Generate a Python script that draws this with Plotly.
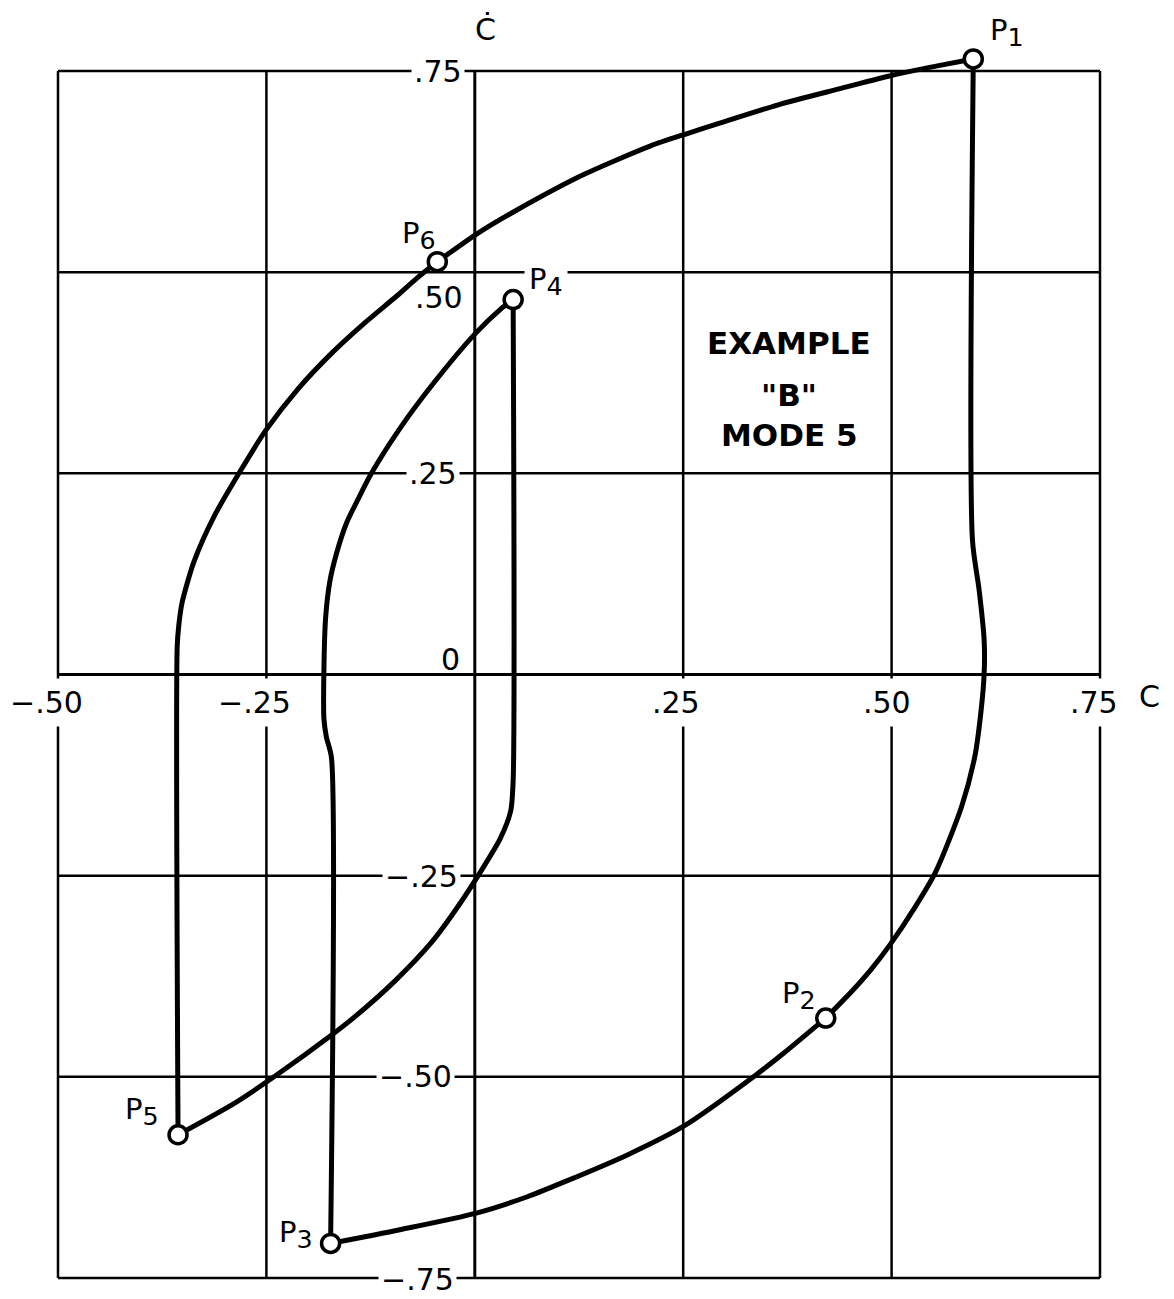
import plotly.graph_objects as go

# Phase-plane trajectory, C (abscissa) against C-dot (ordinate).
# The path runs P1 -> P2 -> P3 -> P4 -> P5 -> P6 -> P1; each leg is stored
# separately so that the corners at the switching points stay sharp.
leg_p1_p2_c    = [0.598, 0.597, 0.605, 0.611, 0.611, 0.607, 0.600, 0.584, 0.553, 0.527, 0.498, 0.475, 0.452, 0.421]
leg_p1_p2_cdot = [0.765, 0.167, 0.105, 0.043, 0.000, -0.048, -0.101, -0.164, -0.245, -0.291, -0.336, -0.367, -0.394, -0.427]

leg_p2_p3_c    = [0.421, 0.370, 0.338, 0.251, 0.183, 0.111, 0.063, 0.003, -0.090, -0.173]
leg_p2_p3_cdot = [-0.427, -0.471, -0.497, -0.561, -0.597, -0.629, -0.649, -0.669, -0.690, -0.707]

leg_p3_p4_c    = [-0.173, -0.172, -0.178, -0.181, -0.181, -0.179, -0.174, -0.166, -0.154, -0.140, -0.124, -0.091, -0.051, 0.000, 0.032, 0.046]
leg_p3_p4_cdot = [-0.707, -0.103, -0.078, -0.055, 0.006, 0.070, 0.115, 0.150, 0.188, 0.218, 0.250, 0.304, 0.360, 0.423, 0.455, 0.466]

leg_p4_p5_c    = [0.046, 0.046, 0.043, 0.030, 0.010, -0.020, -0.052, -0.096, -0.147, -0.173, -0.234, -0.287, -0.356]
leg_p4_p5_cdot = [0.466, -0.132, -0.170, -0.205, -0.240, -0.288, -0.333, -0.381, -0.428, -0.449, -0.495, -0.532, -0.572]

leg_p5_p6_c    = [-0.356, -0.357, -0.355, -0.351, -0.337, -0.313, -0.280, -0.251, -0.212, -0.171, -0.132, -0.093, -0.069, -0.045]
leg_p5_p6_cdot = [-0.572, 0.035, 0.062, 0.090, 0.140, 0.196, 0.255, 0.303, 0.355, 0.400, 0.437, 0.471, 0.493, 0.513]

leg_p6_p1_c    = [-0.045, 0.003, 0.050, 0.130, 0.211, 0.254, 0.290, 0.364, 0.438, 0.502, 0.558, 0.598]
leg_p6_p1_cdot = [0.513, 0.548, 0.577, 0.621, 0.657, 0.672, 0.684, 0.708, 0.728, 0.745, 0.757, 0.765]

# Switching points
point_names = ["P", "P", "P", "P", "P", "P"]
point_index = ["1", "2", "3", "4", "5", "6"]
point_c     = [0.598, 0.421, -0.173, 0.046, -0.356, -0.045]
point_cdot  = [0.765, -0.427, -0.707, 0.466, -0.572, 0.513]

# Axis graduations
c_grid          = [-0.50, -0.25, 0.0, 0.25, 0.50, 0.75]
cdot_grid       = [-0.75, -0.50, -0.25, 0.0, 0.25, 0.50, 0.75]
c_ticks         = [-0.50, -0.25, 0.25, 0.50, 0.75]
c_tick_text     = ["\u2212.50", "\u2212.25", ".25", ".50", ".75"]
cdot_ticks      = [0.75, 0.50, 0.25, 0.0, -0.25, -0.50, -0.75]
cdot_tick_text  = [".75", ".50", ".25", "0", "\u2212.25", "\u2212.50", "\u2212.75"]

title_lines = ["EXAMPLE", "\"B\"", "MODE 5"]

FONT = "DejaVu Sans"
INK = "black"
W, H = 1174, 1299

# Pixel frame of the ruled grid; the axis ranges are widened so that the
# grid box lands there and marks just outside it (P1) are still drawn.
GRID_LEFT, GRID_RIGHT, GRID_TOP, GRID_BOTTOM = 58, 1100, 71, 1278
c_lo, c_hi = min(c_grid), max(c_grid)
d_lo, d_hi = min(cdot_grid), max(cdot_grid)
px_per_c = (GRID_RIGHT - GRID_LEFT) / (c_hi - c_lo)
px_per_d = (GRID_BOTTOM - GRID_TOP) / (d_hi - d_lo)
x_range = [c_lo - GRID_LEFT / px_per_c, c_hi + (W - GRID_RIGHT) / px_per_c]
y_range = [d_lo - (H - GRID_BOTTOM) / px_per_d, d_hi + GRID_TOP / px_per_d]

legs = [
    (leg_p1_p2_c, leg_p1_p2_cdot),
    (leg_p2_p3_c, leg_p2_p3_cdot),
    (leg_p3_p4_c, leg_p3_p4_cdot),
    (leg_p4_p5_c, leg_p4_p5_cdot),
    (leg_p5_p6_c, leg_p5_p6_cdot),
    (leg_p6_p1_c, leg_p6_p1_cdot),
]

fig = go.Figure()
for xs, ys in legs:
    fig.add_trace(go.Scatter(
        x=xs, y=ys, mode="lines",
        line=dict(color=INK, width=5, shape="spline", smoothing=0.7),
        hoverinfo="skip", showlegend=False,
    ))

fig.add_trace(go.Scatter(
    x=point_c, y=point_cdot, mode="markers",
    marker=dict(symbol="circle", size=18, color="white", line=dict(color=INK, width=3.5)),
    hoverinfo="skip", showlegend=False,
))

# Ruled grid, bounded by the outermost graduations
shapes = []
for c in c_grid:
    shapes.append(dict(type="line", xref="x", yref="y", x0=c, x1=c, y0=d_lo, y1=d_hi,
                       layer="below", line=dict(color=INK, width=3 if c == 0 else 2.5)))
for d in cdot_grid:
    shapes.append(dict(type="line", xref="x", yref="y", x0=c_lo, x1=c_hi, y0=d, y1=d,
                       layer="below", line=dict(color=INK, width=3 if d == 0 else 2.5)))

annotations = []

# Point labels: offset (px) from each marker, and whether the label
# breaks the grid line running behind it.  The index digit is lettered
# nearly full size, dropped below the P.
label_offsets = [(34, 26), (-27, 23), (-35, 9), (33, 18), (-36, 23), (-18, 26)]
label_masks = [False, False, False, True, False, False]
for name, idx, xv, yv, (dx, dy), mask in zip(point_names, point_index, point_c, point_cdot,
                                             label_offsets, label_masks):
    annotations.append(dict(
        x=xv, y=yv, xref="x", yref="y",
        text=f"{name}<sub><span style='font-size:125%'>{idx}</span></sub>",
        showarrow=False,
        xanchor="center", yanchor="middle", xshift=dx, yshift=dy,
        font=dict(family=FONT, size=29, color=INK),
        bgcolor="white" if mask else None, borderpad=4,
    ))

# C-axis graduations, set below the zero line in a break of each grid line
c_label_shift = [-12, -12, -7, -5, -6]
for val, txt, dx in zip(c_ticks, c_tick_text, c_label_shift):
    annotations.append(dict(
        x=val, y=0, xref="x", yref="y", text=txt, showarrow=False,
        xanchor="center", yanchor="middle", xshift=dx, yshift=-28,
        font=dict(family=FONT, size=30, color=INK),
        bgcolor="white", borderpad=6,
    ))

# C-dot graduations, set to the left of the vertical axis
cdot_label_place = [
    # (yshift, xshift, break grid line)
    (0, -10, True),
    (-25, -9, False),
    (0, -15, True),
    (15, -12, False),
    (-1, -14, True),
    (0, -20, True),
    (-1, -18, True),
]
for val, txt, (dy, dx, mask) in zip(cdot_ticks, cdot_tick_text, cdot_label_place):
    annotations.append(dict(
        x=0, y=val, xref="x", yref="y", text=txt, showarrow=False,
        xanchor="right", yanchor="middle", xshift=dx, yshift=dy,
        font=dict(family=FONT, size=30, color=INK),
        bgcolor="white" if mask else None, borderpad=2,
    ))

# Axis names
annotations.append(dict(
    x=0, y=d_hi, xref="x", yref="y", text="\u010A", showarrow=False,
    xanchor="center", yanchor="middle", xshift=11, yshift=42,
    font=dict(family=FONT, size=30, color=INK),
))
annotations.append(dict(
    x=c_hi, y=0, xref="x", yref="y", text="C", showarrow=False,
    xanchor="center", yanchor="middle", xshift=49, yshift=-22,
    font=dict(family=FONT, size=30, color=INK),
))

# Title block inside the upper-right quadrant
title_y = [0.412, 0.347, 0.298]
for txt, yv in zip(title_lines, title_y):
    annotations.append(dict(
        x=0.377, y=yv, xref="x", yref="y", text=txt, showarrow=False,
        xanchor="center", yanchor="middle",
        font=dict(family=FONT, size=31, color=INK, weight="bold"),
    ))

axis_common = dict(
    showgrid=False, zeroline=False, showline=False,
    showticklabels=False, ticks="", fixedrange=True,
)

fig.update_layout(
    width=W, height=H, autosize=False,
    margin=dict(l=0, r=0, t=0, b=0, pad=0),
    paper_bgcolor="white", plot_bgcolor="white",
    xaxis=dict(range=x_range, **axis_common),
    yaxis=dict(range=y_range, **axis_common),
    shapes=shapes,
    annotations=annotations,
    showlegend=False,
)

fig.write_html("out.html", config={"displayModeBar": False})
